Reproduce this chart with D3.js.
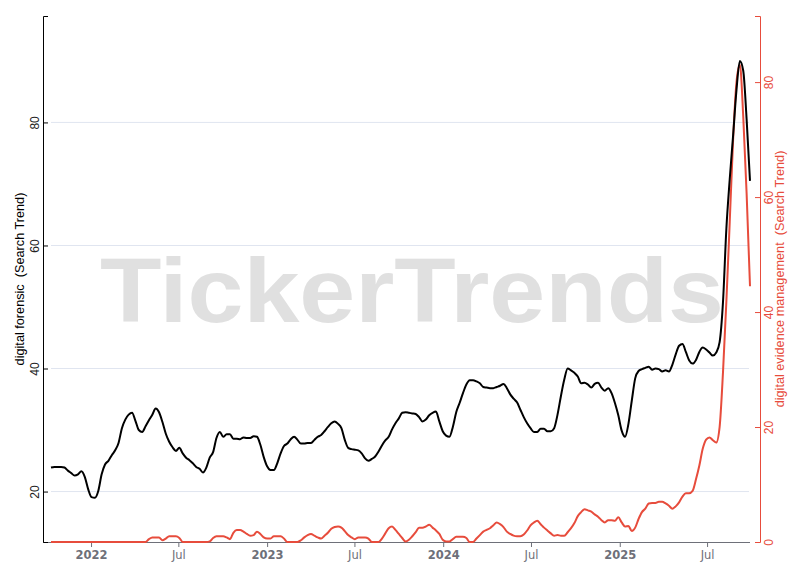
<!DOCTYPE html>
<html><head><meta charset="utf-8">
<script src="https://cdn.jsdelivr.net/npm/d3@7"></script>
<style>body{margin:0;background:#fff}svg{display:block}</style>
</head><body>
<script>
// ---- data (weekly, first week below) ----
const startWeek = "2021-10-10";
const forensic = [
23.9,24.0,24.0,24.0,23.9,23.4,23.0,22.6,22.8,23.3,
22.4,20.4,19.1,19.0,20.1,22.8,24.4,25.0,25.9,26.7,
27.9,30.3,31.7,32.5,32.8,31.5,30.0,29.7,30.6,31.6,
32.5,33.5,32.9,31.3,29.4,28.1,27.2,26.6,27.1,26.2,
25.5,25.1,24.6,24.0,23.7,23.1,23.9,25.5,26.4,28.7,
29.7,28.9,29.3,29.3,28.6,28.6,28.5,28.8,28.7,28.7,
29.0,28.9,27.6,25.6,24.1,23.5,23.5,24.6,26.2,27.4,
27.8,28.5,28.9,28.4,27.8,27.8,27.9,27.9,28.4,28.9,
29.2,29.8,30.5,31.1,31.4,31.0,30.3,28.4,27.1,26.9,
26.8,26.7,26.2,25.4,25.0,25.3,25.7,26.5,27.5,28.3,
28.9,30.1,31.1,31.9,32.8,32.9,32.8,32.7,32.6,32.1,
31.4,31.7,32.4,32.8,33.0,31.4,29.8,29.1,28.9,30.5,
32.9,34.4,36.0,37.4,38.1,38.1,37.9,37.6,37.0,36.9,
36.8,36.8,37.0,37.2,37.5,36.8,35.8,35.1,34.5,33.3,
32.1,31.1,30.3,29.7,29.7,30.2,30.2,29.8,29.8,30.3,
32.5,35.5,38.2,40.0,39.7,39.3,38.7,37.6,37.7,37.4,
36.9,37.5,37.7,36.9,36.4,36.8,36.0,34.4,32.4,29.9,
28.9,31.0,34.8,38.4,39.6,39.9,40.1,40.3,39.8,40.0,
39.9,39.5,39.7,39.5,40.6,42.3,43.7,44.0,42.7,41.3,
40.8,41.4,42.7,43.4,43.1,42.6,42.1,42.6,44.3,50.8,
62.7,70.8,77.9,85.3,90.0,88.4,80.5,70.5
];
const evidence = [
0,0,0,0,0,0,0,0,0,0,
0,0,0,0,0,0,0,0,0,0,
0,0,0,0,0,0,0,0,0,0.5,
0.8,0.8,0.8,0.3,0.6,1.0,1.0,1.0,0.7,0,
0,0,0,0,0,0,0,0.1,0.7,1.0,
1.0,1.0,0.8,0.5,1.6,2.1,2.1,1.8,1.4,1.1,
1.2,1.8,1.4,0.8,0.6,0.6,1.0,1.0,1.0,0.6,
0,0,0,0,0.3,0.8,1.2,1.4,1.1,0.8,
0.6,1.1,1.6,2.3,2.6,2.7,2.5,1.9,1.2,0.8,
0.5,0.8,0.8,0.8,0.6,0,0,0,0.6,1.5,
2.4,2.7,2.1,1.4,0.7,0.1,0.4,1.0,1.7,2.5,
2.5,2.7,3.0,2.5,2.0,1.4,0.4,0.1,0.1,0.5,
0.9,0.9,0.9,0.7,0,0,0.6,1.2,1.8,2.1,
2.4,2.9,3.4,3.1,2.6,1.8,1.4,1.1,1.0,1.0,
1.3,2.0,2.9,3.4,3.7,3.1,2.5,2.0,1.5,1.1,
1.2,1.1,1.1,1.7,2.4,3.3,4.5,5.2,5.7,5.5,
5.3,4.8,4.4,3.8,3.4,3.8,3.8,3.7,4.3,3.4,
2.7,2.8,1.9,2.5,4.0,5.2,5.8,6.7,6.8,6.8,
7.0,7.0,6.7,6.3,5.8,6.2,6.9,7.9,8.5,8.5,
8.9,10.9,13.3,16.2,17.8,18.2,17.7,17.3,20.0,29.5,
41.8,55.7,70.0,80.0,83.0,74.0,60.6,44.5
];
const xTickDates = ["2022-01-01","2022-07-01","2023-01-01","2023-07-01","2024-01-01","2024-07-01","2025-01-01","2025-07-01"];
const xTickLabels = ["2022","Jul","2023","Jul","2024","Jul","2025","Jul"];
const leftTicks = [20,40,60,80];
const rightTicks = [0,20,40,60,80];
const leftTitle = "digital forensic  (Search Trend)";
const rightTitle = "digital evidence management  (Search Trend)";
const watermark = "TickerTrends";

// ---- drawing ----
const W = 796, H = 565;
const RED = "#e74c3c";
const parse = d3.utcParse("%Y-%m-%d");
const t0 = parse(startWeek);
const dates = forensic.map((_, i) => d3.utcDay.offset(t0, 7 * i));

const x = d3.scaleUtc().domain([dates[0], dates[dates.length - 1]]).range([51, 750]);
const yL = d3.scaleLinear().domain([11.8, 97.3]).range([542, 16]);
const yR = d3.scaleLinear().domain([0, 91.5]).range([542, 16]);

const svg = d3.select("body").append("svg").attr("width", W).attr("height", H)
  .style("font-family", "'Liberation Sans', Arial, sans-serif");

// watermark
svg.append("text").text(watermark)
  .attr("x", 100).attr("y", 322)
  .attr("textLength", 624).attr("lengthAdjust", "spacingAndGlyphs")
  .style("font-size", "90px").style("font-weight", "bold")
  .attr("fill", "#e0e0e0");

// gridlines
svg.append("g").selectAll("line").data(leftTicks).join("line")
  .attr("x1", 51).attr("x2", 749)
  .attr("y1", d => yL(d)).attr("y2", d => yL(d))
  .attr("stroke", "#e0e5f0").attr("stroke-width", 1);

// x axis
svg.append("line").attr("x1", 43).attr("x2", 750).attr("y1", 542.5).attr("y2", 542.5)
  .attr("stroke", "#6e7079").attr("stroke-width", 1);
const gx = svg.append("g").attr("transform", "translate(0,542)")
  .call(d3.axisBottom(x).tickValues(xTickDates.map(parse))
    .tickFormat((d, i) => xTickLabels[i]).tickSize(5).tickSizeOuter(0));
gx.select(".domain").remove();
gx.selectAll(".tick line").attr("stroke", "#6e7079");
gx.selectAll(".tick text")
  .attr("y", 16.5).attr("dy", null)
  .attr("fill", "#6e7079")
  .style("font-family", "'DejaVu Sans', sans-serif")
  .style("font-size", "11.5px")
  .style("font-weight", (d, i) => xTickLabels[i] === "Jul" ? "normal" : "bold");

// left axis
const gl = svg.append("g").attr("transform", "translate(43,0)")
  .call(d3.axisLeft(yL).tickValues(leftTicks).tickSizeInner(-5).tickSizeOuter(-5));
gl.select(".domain").attr("stroke", "#000");
gl.selectAll(".tick line").attr("stroke", "#000");
gl.selectAll(".tick text")
  .attr("x", null).attr("dy", null)
  .attr("transform", "translate(-4,0) rotate(-90)")
  .attr("text-anchor", "middle").attr("fill", "#222")
  .style("font-size", "12px");
svg.append("text").text(leftTitle)
  .attr("transform", `translate(23.5,${(16 + 542) / 2}) rotate(-90)`)
  .attr("text-anchor", "middle").style("white-space", "pre")
  .style("font-size", "12.7px").attr("fill", "#000");

// right axis
const gr = svg.append("g").attr("transform", "translate(760,0)")
  .call(d3.axisRight(yR).tickValues(rightTicks).tickSizeInner(-5).tickSizeOuter(-5));
gr.select(".domain").attr("stroke", RED);
gr.selectAll(".tick line").attr("stroke", RED);
gr.selectAll(".tick text")
  .attr("x", null).attr("dy", null)
  .attr("transform", "translate(12.5,0) rotate(-90)")
  .attr("text-anchor", "middle").attr("fill", RED)
  .style("font-size", "12px");
svg.append("text").text(rightTitle)
  .attr("transform", `translate(784,${(16 + 542) / 2}) rotate(-90)`)
  .attr("text-anchor", "middle").style("white-space", "pre")
  .style("font-size", "12.7px").attr("fill", RED);

// lines
const lineL = d3.line().x((d, i) => x(dates[i])).y(d => yL(d)).curve(d3.curveMonotoneX);
const lineR = d3.line().x((d, i) => x(dates[i])).y(d => yR(d)).curve(d3.curveMonotoneX);
svg.append("path").datum(evidence).attr("d", lineR)
  .attr("fill", "none").attr("stroke", RED).attr("stroke-width", 2)
  .attr("stroke-linejoin", "round");
svg.append("path").datum(forensic).attr("d", lineL)
  .attr("fill", "none").attr("stroke", "#000").attr("stroke-width", 2)
  .attr("stroke-linejoin", "round");
</script>
</body></html>
